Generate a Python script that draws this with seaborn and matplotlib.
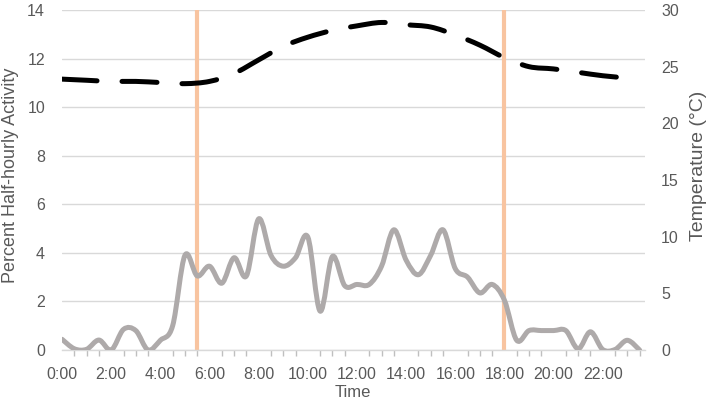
import matplotlib
matplotlib.use("Agg")
import matplotlib.pyplot as plt
from matplotlib.path import Path
from matplotlib.patches import PathPatch
import numpy as np
import seaborn as sns
import pandas as pd

# ---- data ----
slots = list(range(48))                      # half-hour slots 0:00 .. 23:30
tick_slots = list(range(0, 48, 4))
time_labels = [f"{h}:00" for h in range(0, 24, 2)]
activity = [0.44, 0.05, 0.03, 0.41, 0.0, 0.85, 0.8, 0.0, 0.4, 1.0,
            3.9, 3.05, 3.45, 2.75, 3.8, 3.05, 5.4, 3.9, 3.45, 3.8,
            4.65, 1.6, 3.85, 2.65, 2.7, 2.7, 3.45, 4.95, 3.7, 3.1,
            3.9, 4.95, 3.35, 3.0, 2.35, 2.7, 2.05, 0.4, 0.8, 0.8,
            0.8, 0.8, 0.05, 0.75, 0.02, 0.02, 0.4, 0.0]
temp_slots = list(range(0, 48, 2))           # hourly 0:00 .. 23:00
temperature = [23.9, 23.8, 23.7, 23.7, 23.6, 23.5, 23.7, 24.4, 25.6, 26.8,
               27.6, 28.2, 28.6, 28.9, 28.7, 28.5, 27.8, 26.9, 25.8, 25.0,
               24.8, 24.5, 24.2, 24.0]
sun_slots = [11, 36]                         # 5:30 and 18:00

act_df = pd.DataFrame({"slot": slots, "activity": activity})
temp_df = pd.DataFrame({"slot": temp_slots, "temperature": temperature})


def smoothed(line, ax, **kw):
    """Replace a seaborn polyline by a smoothed (Excel-like) curve through the same points."""
    xs, ys = line.get_data()
    pts = np.column_stack([np.asarray(xs, float), np.asarray(ys, float)])
    n = len(pts)
    verts, codes = [pts[0]], [Path.MOVETO]
    for i in range(n - 1):
        p0 = pts[i - 1] if i > 0 else pts[i]
        p1, p2 = pts[i], pts[i + 1]
        p3 = pts[i + 2] if i + 2 < n else pts[i + 1]
        verts += [p1 + (p2 - p0) / 6, p2 - (p3 - p1) / 6, p2]
        codes += [Path.CURVE4] * 3
    line.remove()
    patch = PathPatch(Path(verts, codes), fill=False, transform=ax.transData, **kw)
    ax.add_patch(patch)
    return patch


# ---- style ----
sns.set_theme(style="white")
plt.rcParams["font.family"] = ["Liberation Sans", "DejaVu Sans"]
TXT = "#595959"

W, H = 709, 400
fig = plt.figure(figsize=(W / 100, H / 100), dpi=100)
L, R, T, B = 61.7, 644.5, 10, 350
ax = fig.add_axes([L / W, 1 - B / H, (R - L) / W, (B - T) / H])
ax2 = ax.twinx()

for s in sun_slots:
    ax.axvline(s, color="#F8C4A0", lw=3.0, zorder=1.5)

sns.lineplot(data=act_df, x="slot", y="activity", ax=ax, color="#AEAAAA", lw=3.6)
smoothed(ax.lines[-1], ax, edgecolor="#AEAAAA", lw=3.6,
         capstyle="round", joinstyle="round", zorder=3)
sns.lineplot(data=temp_df, x="slot", y="temperature", ax=ax2, color="black", lw=3.6)
smoothed(ax2.lines[-1], ax2, edgecolor="black", lw=3.6, linestyle=(0, (7, 5)),
         capstyle="round", joinstyle="round", zorder=3)

ax.set_xlim(-0.03, 47.4)
ax.set_ylim(0, 14)
ax.set_yticks(range(0, 15, 2))
ax2.set_ylim(0, 30)
ax2.set_yticks(range(0, 31, 5))
ax.set_xticks(tick_slots)
ax.set_xticklabels(time_labels)
ax.set_xticks(slots, minor=True)

ax.set_axisbelow(True)
ax.grid(axis="y", color="#D9D9D9", lw=1)
ax.grid(axis="x", visible=False)
for sp in ["top", "left", "right"]:
    ax.spines[sp].set_visible(False)
ax.spines["bottom"].set_color("#D9D9D9")
ax.spines["bottom"].set_linewidth(1)
for sp in ax2.spines.values():
    sp.set_visible(False)

ax.tick_params(axis="y", length=0, pad=12, labelsize=11.5, labelcolor=TXT)
ax.tick_params(axis="x", which="both", length=4, width=1, color="#BFBFBF",
               direction="out", pad=8, labelsize=11.5, labelcolor=TXT)
ax.tick_params(axis="x", which="minor", bottom=True)
ax2.tick_params(axis="y", length=0, pad=12, labelsize=11.5, labelcolor=TXT)

ax.set_xlabel("Time", fontsize=12, color=TXT)
ax.xaxis.set_label_coords(0.5, (B - 385) / (B - T))
ax.set_ylabel("Percent Half-hourly Activity", fontsize=13, color=TXT)
ax.yaxis.set_label_coords((19 - L) / (R - L), (B - 175.5) / (B - T))
ax2.set_ylabel("Temperature (°C)", fontsize=14, color=TXT)
ax2.yaxis.set_label_coords((690 - L) / (R - L), (B - 166) / (B - T))

fig.savefig("out.png", dpi=100)
